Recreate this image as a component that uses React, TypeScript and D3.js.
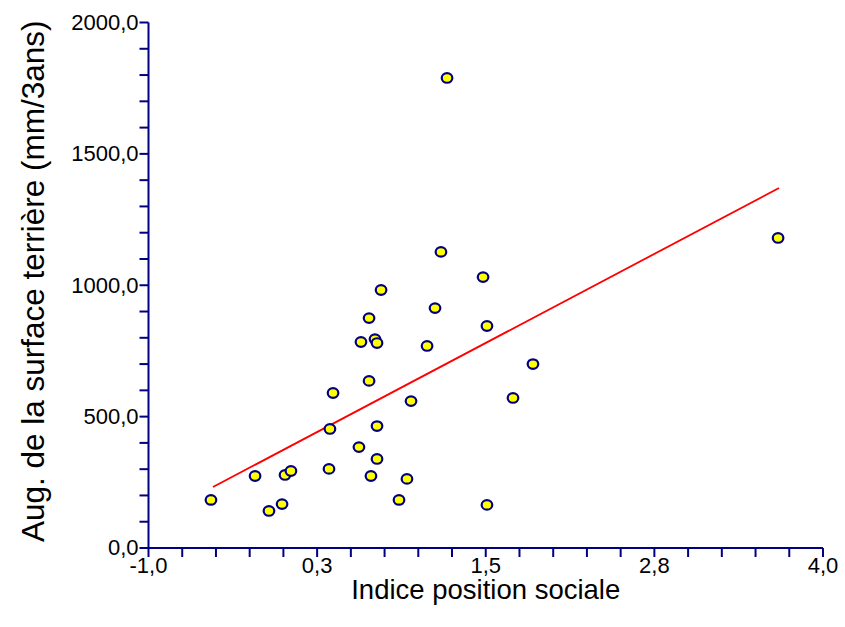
import React from "react";
import * as d3 from "d3";

const xValues = [-0.537, -0.21, 0.012, 0.056, -0.107, -0.01, 0.338, 0.345, 0.368, 0.56, 0.575, 0.635, 0.635, 0.649, 0.679, 0.694, 0.694, 0.694, 0.724, 0.857, 0.916, 0.946, 1.065, 1.124, 1.168, 1.213, 1.48, 1.509, 1.509, 1.702, 1.85, 3.667];
const yValues = [183, 274, 278, 293, 141, 167, 301, 453, 590, 384, 784, 875, 636, 274, 795, 780, 464, 339, 982, 183, 263, 559, 769, 913, 1127, 1789, 1031, 845, 164, 571, 700, 1180];

const lineIntercept = 373.6;
const lineSlope = 271.2;
const lineXStart = -0.522;
const lineXEnd = 3.674;

const xTickLabels = ["-1,0", "0,3", "1,5", "2,8", "4,0"];
const xMajorTicks = [-1, 0.25, 1.5, 2.75, 4];
const yTickLabels = ["0,0", "500,0", "1000,0", "1500,0", "2000,0"];
const yMajorTicks = [0, 500, 1000, 1500, 2000];

const xTitle = "Indice position sociale";
const yTitle = "Aug. de la surface terrière (mm/3ans)";

export default function App() {
  const W = 845, H = 627;
  const x = d3.scaleLinear().domain([-1, 4]).range([148.5, 823]);
  const y = d3.scaleLinear().domain([0, 2000]).range([548, 22.5]);
  const axisColor = "#000080";
  const font = "Arial, 'Liberation Sans', sans-serif";
  const xMinor = d3.range(-1, 4.0001, 0.25);
  const yMinor = d3.range(0, 2000.1, 100);
  const line = d3.line<number>().x((d) => x(d)).y((d) => y(lineIntercept + lineSlope * d));
  return (
    <svg width={W} height={H} style={{ position: "absolute", left: 0, top: 0, background: "#fff" }}>
      {/* y axis */}
      <line x1={x(-1)} x2={x(-1)} y1={y(2000)} y2={y(0)} stroke={axisColor} strokeWidth={2} />
      {yMinor.map((v, i) => (
        <line key={"ym" + i} x1={x(-1) - 9} x2={x(-1)} y1={y(v)} y2={y(v)} stroke={axisColor} strokeWidth={2} />
      ))}
      {yMajorTicks.map((v, i) => (
        <text key={"yl" + i} x={x(-1) - 10} y={y(v)} dy="0.34em" textAnchor="end" fontFamily={font} fontSize={22} fill="#000">
          {yTickLabels[i]}
        </text>
      ))}
      {/* x axis */}
      <line x1={x(-1)} x2={x(4)} y1={y(0)} y2={y(0)} stroke={axisColor} strokeWidth={2} />
      {xMinor.map((v, i) => (
        <line key={"xm" + i} x1={x(v)} x2={x(v)} y1={y(0)} y2={y(0) + 9} stroke={axisColor} strokeWidth={2} />
      ))}
      {xMajorTicks.map((v, i) => (
        <text key={"xl" + i} x={x(v)} y={y(0) + 25} textAnchor="middle" fontFamily={font} fontSize={22} fill="#000">
          {xTickLabels[i]}
        </text>
      ))}
      <text x={(x(-1) + x(4)) / 2} y={599} textAnchor="middle" fontFamily={font} fontSize={27.5} fill="#000">
        {xTitle}
      </text>
      <text transform={`translate(44, ${(y(0) + y(2000)) / 2 - 4}) rotate(-90)`} textAnchor="middle" fontFamily={font} fontSize={31.5} fill="#000">
        {yTitle}
      </text>
      {/* regression line */}
      <path d={line([lineXStart, lineXEnd]) || ""} fill="none" stroke="#ff0000" strokeWidth={1.8} />
      {/* points */}
      {xValues.map((v, i) => (
        <ellipse key={"p" + i} cx={x(v)} cy={y(yValues[i])} rx={5.3} ry={4.8} fill="#ffff00" stroke={axisColor} strokeWidth={2.2} />
      ))}
    </svg>
  );
}
